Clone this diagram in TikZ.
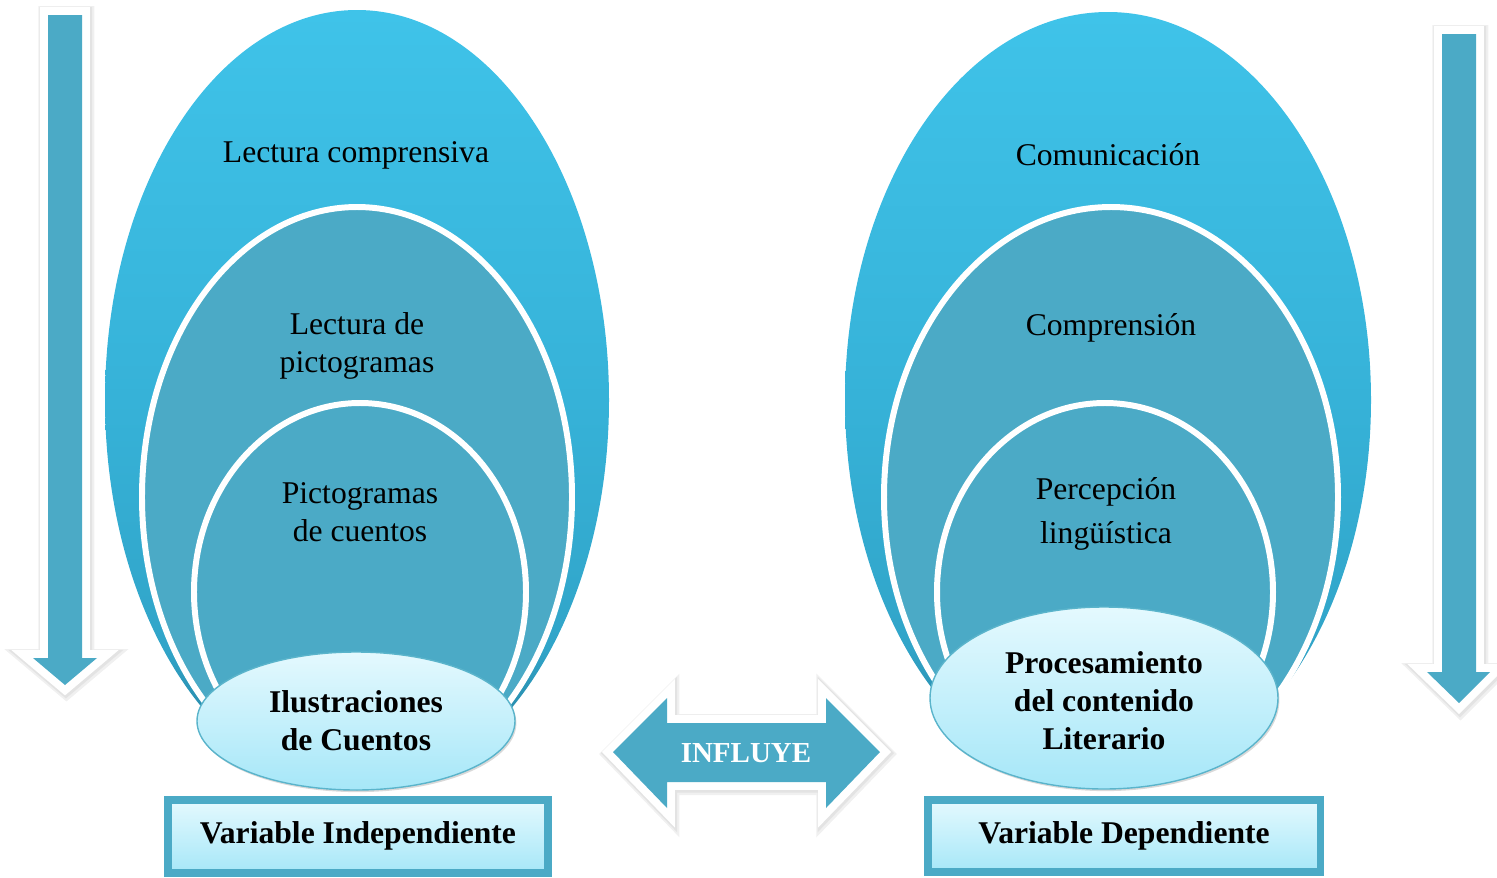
\documentclass[tikz,border=0pt]{standalone}
\usepackage{fontspec}
\setmainfont{Liberation Serif}
\usetikzlibrary{shadows}
\definecolor{tealA}{HTML}{4BAAC6}
\definecolor{skyTop}{HTML}{3FC3E9}
\definecolor{skyMid}{HTML}{36B2D8}
\definecolor{skyBot}{HTML}{1D6F8B}
\definecolor{paleTop}{HTML}{E4F9FE}
\definecolor{paleBot}{HTML}{A6E7F8}
\definecolor{rimC}{HTML}{5AB4CB}
\pgfdeclareverticalshading{eggshade}{100bp}{color(0bp)=(skyBot); color(25bp)=(skyBot);
  color(34bp)=(skyMid!80!skyBot); color(50bp)=(skyMid); color(75bp)=(skyTop); color(100bp)=(skyTop)}
\tikzset{
  bigegg/.style={shading=eggshade},
  ring/.style={fill=tealA, draw=white, line width=3.4pt,
    drop shadow={opacity=0.35, shadow xshift=0.6pt, shadow yshift=-0.6pt}},
  capoval/.style={top color=paleTop, bottom color=paleBot, draw=rimC, line width=0.8pt,
    drop shadow={opacity=0.3, shadow xshift=0.8pt, shadow yshift=-1.2pt}},
  varbox/.style={top color=paleTop, bottom color=paleBot, draw=tealA, line width=4pt,
    drop shadow={opacity=0.3, shadow xshift=1pt, shadow yshift=-1pt}},
  bigarrow/.style={fill=tealA,
    preaction={draw=black!6, line width=12.5pt, transform canvas={shift={(0.8pt,-1.2pt)}}},
    preaction={draw=black!11, line width=10.6pt, transform canvas={shift={(0.5pt,-0.7pt)}}},
    preaction={draw=white, line width=9pt}},
  lbl/.style={align=center, font=\fontsize{18}{21.6}\selectfont},
  blbl/.style={align=center, font=\fontsize{18}{21.6}\selectfont\bfseries}
}
\begin{document}
\begin{tikzpicture}[x=0.2mm,y=-0.2mm]
\useasboundingbox (0,0) rectangle (1497,877);
% flechas laterales
\path[bigarrow] (48,15)--(82,15)--(82,658)--(97,658)--(65,685)--(33,658)--(48,658)--cycle;
\path[bigarrow] (1442,34)--(1476,34)--(1476,672)--(1490,672)--(1459,703)--(1427,672)--(1442,672)--cycle;
% variable independiente
\path[bigegg] (357,400) ellipse [x radius=252, y radius=390];
\path[ring] (357,497) ellipse [x radius=215, y radius=290];
\path[ring] (360,592) ellipse [x radius=166, y radius=189];
\path[capoval] (356,721) ellipse [x radius=159, y radius=69];
\node[lbl] (lc) at (356,155) {Lectura comprensiva};
\node[lbl] (lp) at (357,346) {Lectura de\\pictogramas};
\node[lbl] (pc) at (360,512) {Pictogramas\\de cuentos};
\node[blbl] (ic) at (356,721) {Ilustraciones\\de Cuentos};
\path[varbox] (168,800) rectangle (548,873);
\node[blbl] (vi) at (358,836) {Variable Independiente};
% variable dependiente
\path[bigegg] (1108,400) ellipse [x radius=263, y radius=388];
\path[ring] (1111,497) ellipse [x radius=227, y radius=290];
\path[ring] (1105,592) ellipse [x radius=168, y radius=189];
\path[capoval] (1104,698) ellipse [x radius=174, y radius=91];
\node[lbl] (co) at (1108,155) {Comunicación};
\node[lbl] (cm) at (1111,328) {Comprensión};
\node[lbl, font=\fontsize{18}{25}\selectfont] (pl) at (1106,514) {Percepción\\lingüística};
\node[blbl] (pr) at (1104,701) {Procesamiento\\del contenido\\Literario};
\path[varbox] (928,800) rectangle (1320,872);
\node[blbl] (vd) at (1124,836) {Variable Dependiente};
% influye
\path[bigarrow] (613,752)--(667,698)--(667,723)--(826,723)--(826,698)--(880,752)--(826,808)--(826,782)--(667,782)--(667,808)--cycle;
\node[blbl, font=\fontsize{16.5}{19}\selectfont\bfseries, text=white] (in) at (746,753) {INFLUYE};
\end{tikzpicture}
\end{document}
